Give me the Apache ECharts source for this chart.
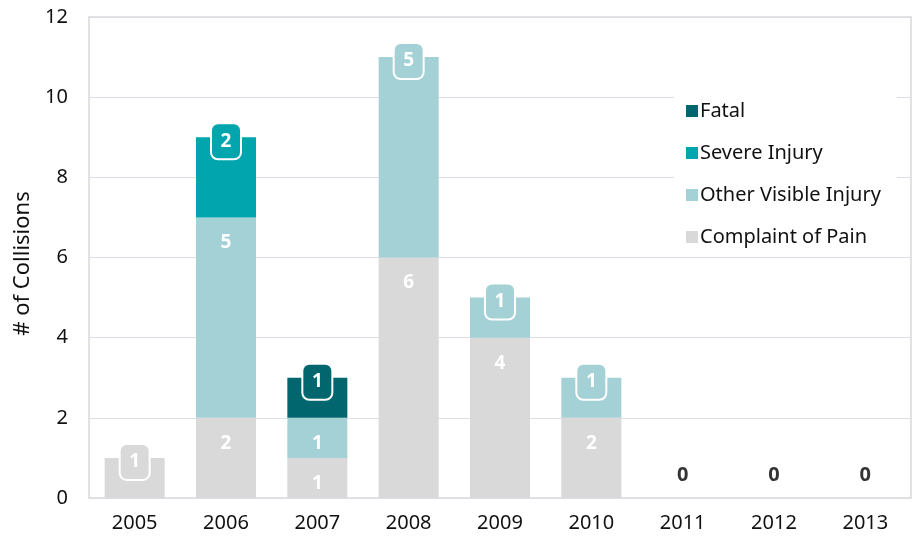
<!DOCTYPE html>
<html><head><meta charset="utf-8">
<script src="https://cdn.jsdelivr.net/npm/echarts@6/dist/echarts.min.js"></script>
<style>html,body{margin:0;padding:0;background:#fff}#c{width:913px;height:538px}</style>
</head><body><div id="c"></div>
<script>
const years = ['2005','2006','2007','2008','2009','2010','2011','2012','2013'];
const complaintOfPain = [1,2,1,6,4,2,0,0,0];
const otherVisibleInjury = [0,5,1,5,1,1,0,0,0];
const severeInjury = [0,2,0,0,0,0,0,0,0];
const fatal = [0,0,1,0,0,0,0,0,0];
const yTicks = [0,2,4,6,8,10,12];

const FONT = 'Noto Sans';
const seriesDefs = [
  {name:'Complaint of Pain', data: complaintOfPain, color:'#D9D9D9'},
  {name:'Other Visible Injury', data: otherVisibleInjury, color:'#A3D1D6'},
  {name:'Severe Injury', data: severeInjury, color:'#00A5AE'},
  {name:'Fatal', data: fatal, color:'#01666D'}
];

function topIndex(j){
  let t=-1;
  seriesDefs.forEach((s,i)=>{ if(s.data[j]>0) t=i; });
  return t;
}

const series = seriesDefs.map((s,i)=>({
  name: s.name, type:'bar', stack:'total', barWidth:60,
  itemStyle:{color:s.color},
  emphasis:{disabled:true},
  data: s.data.map((v,j)=>{
    if(v===0) return {value:0, label:{show:false}};
    if(topIndex(j)===i){
      return {value:v, label:{
        show:true, position:'top', distance:0, offset:[0,21],
        color:'#fff', fontWeight:'bold', fontSize:19, fontFamily:FONT,
        backgroundColor:s.color, borderColor:'#fff', borderWidth:2, borderRadius:6,
        width:28, height:18, lineHeight:18, padding:[8,0], align:'center'
      }};
    }
    return {value:v, label:{
      show:true, position:'insideTop', distance:16,
      color:'#fff', fontWeight:'bold', fontSize:19, fontFamily:FONT
    }};
  })
}));

const totals = years.map((y,j)=>seriesDefs.reduce((a,s)=>a+s.data[j],0));
series.push({
  name:'zero', type:'scatter', symbolSize:0, silent:true,
  data: totals.map(t=> t===0 ? 0 : null),
  label:{show:true, position:'inside', offset:[0,-23], formatter:'0',
    color:'#000', fontWeight:'bold', fontSize:20, fontFamily:FONT}
});

const chart = echarts.init(document.getElementById('c'));
chart.setOption({
  animation:false,
  textStyle:{fontFamily:FONT},
  grid:{left:89, right:2, top:17, bottom:40, show:true, borderColor:'#D9D9D9', borderWidth:1.5},
  legend:{
    data:['Fatal','Severe Injury','Other Visible Injury','Complaint of Pain'],
    orient:'vertical', left:674, top:89, itemWidth:12, itemHeight:12, itemGap:22,
    padding:[12,16,8,12], backgroundColor:'#fff', icon:'rect',
    textStyle:{fontSize:20, color:'#111', fontFamily:FONT, lineHeight:20, padding:[0,0,0,-3]}
  },
  xAxis:{type:'category', data:years,
    axisLine:{show:false}, axisTick:{show:false},
    axisLabel:{fontSize:20, color:'#111', margin:15}},
  yAxis:{type:'value', min:yTicks[0], max:yTicks[yTicks.length-1], interval:2,
    name:'# of Collisions', nameLocation:'middle', nameGap:52, nameRotate:90,
    nameTextStyle:{fontSize:22, color:'#111', padding:[0,12,0,0]},
    axisLine:{show:false}, axisTick:{show:false},
    axisLabel:{fontSize:20, color:'#111', margin:21}},
  series: series
});
</script></body></html>
